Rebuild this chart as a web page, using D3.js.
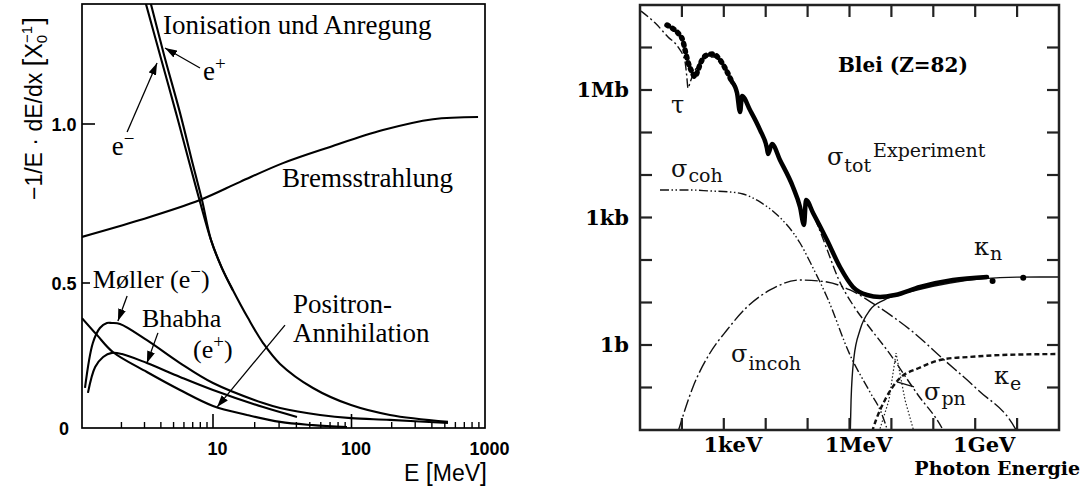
<!DOCTYPE html>
<html>
<head>
<meta charset="utf-8">
<script src="https://cdn.jsdelivr.net/npm/d3@7"></script>
<style>
  body { margin: 0; background: #fff; }
  svg { display: block; }
</style>
</head>
<body>
<svg id="chart" width="1090" height="489"></svg>
<script>
// ---------------------------------------------------------------------------
// Left panel: relative energy loss of e-/e+ in lead, E in MeV, value in 1/X0
// ---------------------------------------------------------------------------
const ionElectron = [[2.92, 1.412], [3.08, 1.377], [3.94, 1.217], [5.22, 1.035], [6.67, 0.871],
  [7.96, 0.755], [9.66, 0.635], [11.6, 0.547], [13.9, 0.476], [17.9, 0.379], [23.0, 0.293],
  [30.5, 0.221], [52.7, 0.138], [99.2, 0.079], [194, 0.045], [528, 0.021]];
const ionPositron = [[3.19, 1.412], [3.36, 1.377], [4.23, 1.217], [5.60, 1.035], [7.04, 0.871],
  [8.24, 0.761], [9.66, 0.635], [11.6, 0.547], [13.9, 0.476]];
const brems = [[1.0, 0.645], [2.77, 0.698], [7.96, 0.761], [15.7, 0.818], [32.0, 0.877],
  [70.0, 0.928], [172, 0.981], [408, 1.015], [887, 1.022]];
const moller = [[1.054, 0.138], [1.21, 0.293], [1.37, 0.345], [1.55, 0.362], [1.69, 0.362],
  [1.95, 0.359], [3.13, 0.303], [5.60, 0.224], [10, 0.155], [23.0, 0.086], [30.5, 0.069],
  [59.3, 0.045], [99.2, 0.034], [194, 0.028], [528, 0.017]];
const bhabha = [[1.11, 0.121], [1.26, 0.210], [1.45, 0.245], [1.69, 0.259], [2.02, 0.255],
  [3.13, 0.224], [5.60, 0.176], [10, 0.131], [23.0, 0.072], [40.4, 0.038]];
const annihilation = [[1.0, 0.379], [1.30, 0.321], [1.72, 0.262], [3.13, 0.193], [5.60, 0.131],
  [10, 0.076], [17.6, 0.045], [30.5, 0.021], [52.7, 0.010], [92.8, 0.003]];

const leftXTicks = [10, 100, 1000];
const leftXLabels = ["10", "100", "1000"];
const leftXMinor = [2, 3, 4, 5, 6, 7, 8, 9, 20, 30, 40, 50, 60, 70, 80, 90,
  200, 300, 400, 500, 600, 700, 800, 900];
const leftYTicks = [0, 0.5, 1.0];
const leftYLabels = ["0", "0.5", "1.0"];

// ---------------------------------------------------------------------------
// Right panel: photon cross sections in lead, E in eV, sigma in barn
// ---------------------------------------------------------------------------
const totExpUpper = [[44.1, 3.38e7], [58.0, 2.88e7], [80.7, 2.19e7], [106, 1.42e7], [119, 8.73e6],
  [140, 4.56e6], [174, 2.65e6], [205, 2.02e6], [242, 2.96e6], [302, 5.08e6], [397, 6.66e6],
  [552, 7.03e6], [812, 5.08e6], [1070, 3.30e6], [1570, 1.54e6]];
const totExpLower = [[1570, 1.54e6], [2070, 8.5e5], [2440, 3.03e5], [2720, 7.23e5], [4220, 3.38e5],
  [7310, 1.15e5], [1.07e4, 4.31e4], [1.14e4, 3.12e4], [1.41e4, 5.36e4], [2.19e4, 2.25e4],
  [4.48e4, 5.22e3], [6.59e4, 1.77e3], [8.21e4, 667], [9.16e4, 2.58e3], [1.35e5, 1.28e3],
  [2.90e5, 296], [5.93e5, 68.4], [1.21e6, 23.2], [2.62e6, 15.0], [5.35e6, 13.5],
  [1.22e7, 15.0], [4.82e7, 23.2], [2.95e8, 33.8], [1.91e9, 39.8]];
const totExpMarkers = [[2.6e9, 32], [1.4e10, 38]];
const tauPhoto = [[10.6, 7.2e7], [22.8, 3.8e7], [46.6, 1.77e7], [80.7, 1.03e7], [119, 4.56e6],
  [130, 2.2e6], [140, 1.11e6], [160, 1.6e6], [184, 2.25e6], [270, 4.56e6], [420, 5.97e6],
  [617, 5.97e6], [906, 4.09e6], [1570, 1.85e6], [2180, 8.2e5], [2580, 2.9e5], [2870, 6.6e5],
  [4220, 3.25e5], [7310, 1.1e5], [1.07e4, 4.1e4], [1.14e4, 3.0e4], [1.41e4, 5.1e4],
  [2.19e4, 2.15e4], [4.48e4, 5.0e3], [6.59e4, 1.7e3], [8.21e4, 640], [9.16e4, 2.45e3],
  [1.02e5, 2.19e3], [1.77e5, 631], [3.07e5, 154], [5.32e5, 37.7], [1.21e6, 8.73],
  [3.08e6, 2.51], [7.85e6, 0.762], [4.32e7, 0.0667], [1.61e8, 0.0111], [1.8e8, 0.009]];
const sigmaCoh = [[30.0, 4.44e3], [156, 4.44e3], [469, 4.21e3], [1410, 3.98e3], [2870, 3.57e3],
  [7310, 2.32e3], [1.67e4, 1.28e3], [6.59e4, 251], [1.35e5, 64.8], [2.90e5, 13.5],
  [1.03e6, 0.582], [3.08e6, 0.078], [5.65e6, 0.0265], [8.3e6, 0.009]];
const sigmaIncoh = [[80.7, 0.009], [184, 0.103], [469, 0.648], [1190, 2.25], [3580, 7.84],
  [1.27e4, 19.7], [6.59e4, 33.8], [2.90e5, 30.4], [1.03e6, 19.7], [4.53e6, 8.28],
  [3.28e7, 2.02], [1.61e8, 0.494], [1.17e9, 0.087], [8.91e9, 0.0111], [1e10, 0.009]];
const kappaN = [[1.03e6, 0.005], [1.09e6, 0.051], [1.28e6, 0.52], [1.78e6, 2.25], [3.08e6, 6.66],
  [6.65e6, 11.4], [4.08e7, 19.7], [2.51e8, 28.8], [1.62e9, 36.5], [1e10, 39.5], [1e11, 39.8]];
const kappaE = [[3.44e6, 0.009], [4.29e6, 0.0172], [7.03e6, 0.051], [1.44e7, 0.150],
  [4.56e7, 0.288], [1.90e8, 0.469], [7.11e8, 0.522], [4.36e9, 0.582], [1e11, 0.614]];
const sigmaPN = [[5.06e6, 0.009], [8.77e6, 0.051], [1.29e7, 0.648], [2.11e7, 0.051], [3.46e7, 0.009]];

const rightXTicks = [1e2, 1e3, 1e4, 1e5, 1e6, 1e7, 1e8, 1e9, 1e10];
const rightXLabelValues = [1e3, 1e6, 1e9];
const rightXLabels = ["1keV", "1MeV", "1GeV"];
const rightYTicks = [1e-1, 1, 1e1, 1e2, 1e3, 1e4, 1e5, 1e6, 1e7];
const rightYLabelValues = [1e6, 1e3, 1];
const rightYLabels = ["1Mb", "1kb", "1b"];

// ---------------------------------------------------------------------------
const svg = d3.select("#chart");
const defs = svg.append("defs");
const SERIF_L = "'Liberation Serif', 'Times New Roman', serif";
const SERIF_R = "'DejaVu Serif', serif";
const SANS = "'Liberation Sans', Arial, sans-serif";

defs.append("marker")
  .attr("id", "head")
  .attr("viewBox", "0 0 12 8")
  .attr("refX", 12).attr("refY", 4)
  .attr("markerWidth", 12).attr("markerHeight", 8)
  .attr("markerUnits", "userSpaceOnUse")
  .attr("orient", "auto")
  .append("path").attr("d", "M0,0L12,4L0,8z").attr("fill", "#000");

/* ------------------------------ left panel ------------------------------ */
const xL = d3.scaleLog().domain([1, 10, 100, 1000]).range([82, 213, 351.5, 485]);
const yL = d3.scaleLinear().domain([0, 0.5, 1]).range([428, 283, 124]);
const L = { x0: 82, x1: 485, y0: 4, y1: 428 };

defs.append("clipPath").attr("id", "clipL").append("rect")
  .attr("x", L.x0).attr("y", L.y0).attr("width", L.x1 - L.x0).attr("height", L.y1 - L.y0);

const left = svg.append("g");
const lineL = d3.line().x(d => xL(d[0])).y(d => yL(d[1])).curve(d3.curveCatmullRom.alpha(0.5));

const curvesL = left.append("g").attr("clip-path", "url(#clipL)")
  .attr("fill", "none").attr("stroke", "#000").attr("stroke-width", 2.1);
[ionElectron, ionPositron, brems, moller, bhabha, annihilation].forEach(s => {
  curvesL.append("path").attr("d", lineL(s));
});

left.append("rect")
  .attr("x", L.x0).attr("y", L.y0).attr("width", L.x1 - L.x0).attr("height", L.y1 - L.y0)
  .attr("fill", "none").attr("stroke", "#000").attr("stroke-width", 1.7);

// bottom ticks (inward)
left.append("g").selectAll("line").data(leftXMinor).join("line")
  .attr("x1", d => xL(d)).attr("x2", d => xL(d))
  .attr("y1", L.y1).attr("y2", L.y1 - 6)
  .attr("stroke", "#000").attr("stroke-width", 1.4);
left.append("g").selectAll("line").data(leftXTicks.filter(d => d < 1000)).join("line")
  .attr("x1", d => xL(d)).attr("x2", d => xL(d))
  .attr("y1", L.y1).attr("y2", L.y1 - 14)
  .attr("stroke", "#000").attr("stroke-width", 1.6);
left.append("g").selectAll("text").data(leftXTicks).join("text")
  .attr("x", d => xL(d) + 4.5).attr("y", 455)
  .attr("text-anchor", "middle")
  .attr("font-family", SANS).attr("font-weight", "bold").attr("font-size", 18)
  .text((d, i) => leftXLabels[i]);

// left ticks
left.append("g").selectAll("line").data(leftYTicks.filter(d => d > 0)).join("line")
  .attr("x1", L.x0).attr("x2", d => L.x0 + (d === 1 ? 13 : 8))
  .attr("y1", d => yL(d)).attr("y2", d => yL(d))
  .attr("stroke", "#000").attr("stroke-width", 1.6);
left.append("g").selectAll("text").data(leftYTicks).join("text")
  .attr("x", 64).attr("y", d => yL(d) + 7)
  .attr("text-anchor", "middle")
  .attr("font-family", SANS).attr("font-weight", "bold").attr("font-size", 18)
  .text((d, i) => leftYLabels[i]);

// axis titles
const yTitle = left.append("text")
  .attr("transform", "translate(42,200) rotate(-90)")
  .attr("font-family", SANS).attr("font-size", 23);
yTitle.append("tspan").text("−1/E · dE/dx ");
yTitle.append("tspan").attr("font-size", 28).text("[");
yTitle.append("tspan").text("X");
yTitle.append("tspan").attr("font-size", 15).attr("dy", 5).text("0");
yTitle.append("tspan").attr("font-size", 15).attr("dx", -8).attr("dy", -15).text("−1");
yTitle.append("tspan").attr("font-size", 28).attr("dx", 1).attr("dy", 10).text("]");

const xTitle = left.append("text")
  .attr("x", 487).attr("y", 481).attr("text-anchor", "end")
  .attr("font-family", SANS).attr("font-size", 23);
xTitle.append("tspan").text("E ");
xTitle.append("tspan").attr("font-size", 25).text("[");
xTitle.append("tspan").text("MeV");
xTitle.append("tspan").attr("font-size", 25).text("]");

// annotations
const arrowsL = [
  [[2.21, 0.975], [3.74, 1.192]],
  [[7.96, 1.176], [4.30, 1.239]],
  [[2.21, 0.455], [1.88, 0.369]],
  [[3.80, 0.328], [3.13, 0.224]],
  [[33.1, 0.355], [10.7, 0.072]]
];
left.append("g").selectAll("line").data(arrowsL).join("line")
  .attr("x1", d => xL(d[0][0])).attr("y1", d => yL(d[0][1]))
  .attr("x2", d => xL(d[1][0])).attr("y2", d => yL(d[1][1]))
  .attr("stroke", "#000").attr("stroke-width", 1.3)
  .attr("marker-end", "url(#head)");

function labelL(E, v, size) {
  return left.append("text")
    .attr("x", xL(E)).attr("y", yL(v))
    .attr("font-family", SERIF_L).attr("font-size", size || 27);
}
labelL(4.15, 1.283).text("Ionisation und Anregung");
labelL(31.5, 0.802).text("Bremsstrahlung");
labelL(37.8, 0.397).text("Positron-");
labelL(37.8, 0.297).text("Annihilation");
labelL(2.87, 0.350, 26).text("Bhabha");
let t = labelL(8.39, 1.138);
t.append("tspan").text("e");
t.append("tspan").attr("font-size", 19).attr("dy", -10).text("+");
t = labelL(1.69, 0.903);
t.append("tspan").text("e");
t.append("tspan").attr("font-size", 19).attr("dy", -10).text("−");
t = labelL(1.21, 0.483, 26);
t.append("tspan").text("Møller (e");
t.append("tspan").attr("font-size", 19).attr("dy", -10).text("−");
t.append("tspan").attr("dy", 10).text(")");
t = labelL(7.04, 0.243, 26);
t.append("tspan").text("(e");
t.append("tspan").attr("font-size", 19).attr("dy", -10).text("+");
t.append("tspan").attr("dy", 10).text(")");

/* ------------------------------ right panel ----------------------------- */
const xR = d3.scaleLog().domain([1e1, 1e11]).range([640, 1059]);
const yR = d3.scaleLog().domain([1e-2, 1e8]).range([430, 5]);
const R = { x0: 640, x1: 1059, y0: 5, y1: 430 };

defs.append("clipPath").attr("id", "clipR").append("rect")
  .attr("x", R.x0).attr("y", R.y0).attr("width", R.x1 - R.x0).attr("height", R.y1 - R.y0);

const right = svg.append("g");
const lineR = d3.line().x(d => xR(d[0])).y(d => yR(d[1])).curve(d3.curveMonotoneX);
const plotR = right.append("g").attr("clip-path", "url(#clipR)").attr("fill", "none");

const thin = [
  { data: sigmaCoh, dash: "9 2.5 1.5 2.5 1.5 2.5", w: 1.4 },
  { data: sigmaIncoh, dash: "13 3 2 3", w: 1.4 },
  { data: tauPhoto, dash: "9 3 2 3", w: 1.4 },
  { data: kappaN, dash: null, w: 1.4 },
  { data: kappaE, dash: "5 3", w: 2.4 }
];
thin.forEach(s => {
  plotR.append("path").attr("d", lineR(s.data))
    .attr("stroke", "#111").attr("stroke-width", s.w)
    .attr("stroke-dasharray", s.dash);
});
plotR.append("path")
  .attr("d", d3.line().x(d => xR(d[0])).y(d => yR(d[1]))(sigmaPN))
  .attr("stroke", "#222").attr("stroke-width", 1.2).attr("stroke-dasharray", "1.5 2");

// experimental total cross section
plotR.append("path").attr("d", lineR(totExpUpper))
  .attr("stroke", "#000").attr("stroke-width", 5.5)
  .attr("stroke-linecap", "round").attr("stroke-dasharray", "1.5 5");
plotR.append("path").attr("d", lineR(totExpLower))
  .attr("stroke", "#000").attr("stroke-width", 4.5)
  .attr("stroke-linejoin", "round").attr("stroke-linecap", "round");
plotR.append("g").selectAll("circle").data(totExpMarkers).join("circle")
  .attr("cx", d => xR(d[0])).attr("cy", d => yR(d[1])).attr("r", 3)
  .attr("fill", "#000");

right.append("rect")
  .attr("x", R.x0).attr("y", R.y0).attr("width", R.x1 - R.x0).attr("height", R.y1 - R.y0)
  .attr("fill", "none").attr("stroke", "#222").attr("stroke-width", 2.5);

const tickR = right.append("g").attr("stroke", "#222").attr("stroke-width", 2.2);
rightXTicks.forEach(v => {
  tickR.append("line").attr("x1", xR(v)).attr("x2", xR(v)).attr("y1", R.y1).attr("y2", R.y1 - 12);
  tickR.append("line").attr("x1", xR(v)).attr("x2", xR(v)).attr("y1", R.y0).attr("y2", R.y0 + 12);
});
rightYTicks.forEach(v => {
  tickR.append("line").attr("y1", yR(v)).attr("y2", yR(v)).attr("x1", R.x0).attr("x2", R.x0 + 12);
  tickR.append("line").attr("y1", yR(v)).attr("y2", yR(v)).attr("x1", R.x1).attr("x2", R.x1 - 12);
});

right.append("g").selectAll("text").data(rightXLabelValues).join("text")
  .attr("x", d => xR(d) + 9).attr("y", 452).attr("text-anchor", "middle")
  .attr("font-family", SERIF_R).attr("font-weight", "bold").attr("font-size", 21)
  .text((d, i) => rightXLabels[i]);
right.append("g").selectAll("text").data(rightYLabelValues).join("text")
  .attr("x", 629).attr("y", d => yR(d) + 7).attr("text-anchor", "end")
  .attr("font-family", SERIF_R).attr("font-weight", "bold").attr("font-size", 21)
  .text((d, i) => rightYLabels[i]);

right.append("text").attr("x", 1080).attr("y", 475).attr("text-anchor", "end")
  .attr("font-family", SERIF_R).attr("font-weight", "bold").attr("font-size", 19)
  .text("Photon Energie");
right.append("text").attr("x", xR(5.3e5)).attr("y", yR(2.65e6))
  .attr("font-family", SERIF_R).attr("font-weight", "bold").attr("font-size", 20)
  .text("Blei (Z=82)");

// pointer to the photonuclear peak
right.append("line")
  .attr("x1", xR(3.46e7)).attr("y1", yR(0.103)).attr("x2", xR(1.36e7)).attr("y2", yR(0.135))
  .attr("stroke", "#111").attr("stroke-width", 1.3);

function symLabel(E, s, sym, sub, subDy) {
  const txt = right.append("text").attr("x", xR(E)).attr("y", yR(s))
    .attr("font-family", SERIF_R).attr("fill", "#111");
  txt.append("tspan").attr("font-size", 24).text(sym);
  if (sub) txt.append("tspan").attr("font-size", 19).attr("dx", 1).attr("dy", subDy).text(sub);
  return txt;
}
symLabel(55, 2.9e5, "τ");
symLabel(55, 9.0e3, "σ", "coh", 5);
symLabel(9.4e8, 131, "κ", "n", 5);
symLabel(1.49e3, 0.4, "σ", "incoh", 8);
symLabel(6.0e7, 0.051, "σ", "pn", 5);
symLabel(2.8e9, 0.12, "κ", "e", 6);
const tot = symLabel(2.9e5, 1.7e4, "σ", "tot", 7);
tot.append("tspan").attr("font-size", 19).attr("dx", 2).attr("dy", -15).text("Experiment");
</script>
</body>
</html>
